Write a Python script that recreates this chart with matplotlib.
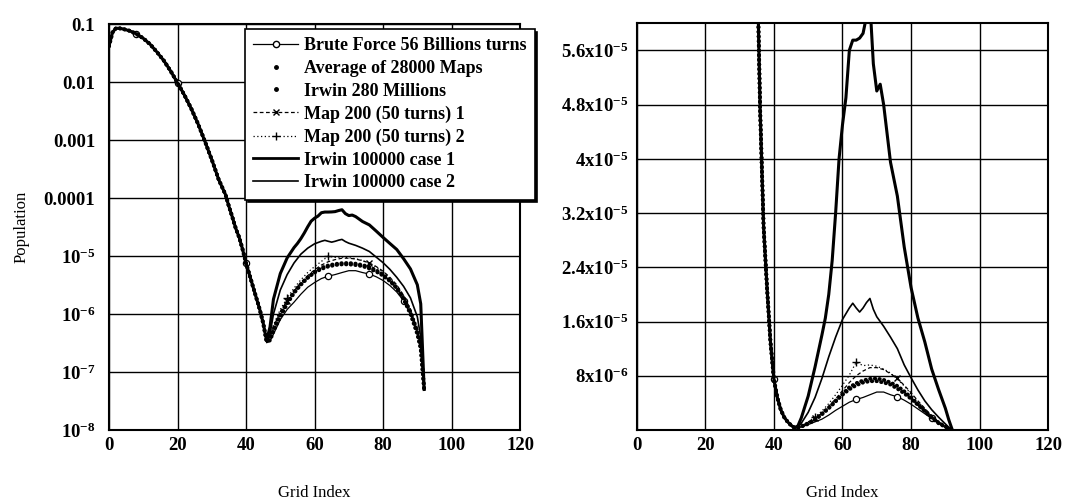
#!/usr/bin/env python3
"""
Population vs grid index, log and linear views
"""

import numpy as np
import matplotlib.pyplot as plt
from matplotlib.lines import Line2D
from matplotlib.ticker import NullLocator

# shared steep decay, all series lie on top of each other here
decay_grid = [0, 1, 2, 3, 4, 6, 8, 10, 12, 14, 16, 18, 20, 22, 24, 26, 28, 30,
              32, 34, 35, 36, 37, 38, 39, 40, 41, 42, 43, 44, 45]
decay_pop = [0.042, 0.072, 0.085, 0.085, 0.083, 0.077, 0.068, 0.057, 0.045,
             0.033, 0.0235, 0.0155, 0.0097, 0.0060, 0.0035, 0.0019, 9.5e-4,
             4.6e-4, 2.1e-4, 1.15e-4, 7.2e-5, 4.7e-5, 3.0e-5, 2.1e-5, 1.3e-5,
             7.5e-6, 4.8e-6, 3.0e-6, 1.9e-6, 1.2e-6, 7e-7]

# second hump, one list per series
hump_grid = [46, 47, 48, 50, 52, 54, 56, 58, 60, 62, 64, 66, 68, 70, 72, 74,
             76, 78, 80, 82, 84, 86, 88, 90, 91, 92]
brute_hump = [3.2e-7, 3.4e-7, 4.5e-7, 8e-7, 1.2e-6, 1.6e-6, 2.2e-6, 2.9e-6,
              3.5e-6, 4.1e-6, 4.5e-6, 4.8e-6, 5.2e-6, 5.6e-6, 5.6e-6, 5.2e-6,
              4.9e-6, 4.4e-6, 3.8e-6, 3.1e-6, 2.4e-6, 1.7e-6, 1.0e-6, 5e-7,
              2.8e-7, 5e-8]
average_hump = [3.4e-7, 3.5e-7, 5e-7, 9e-7, 1.5e-6, 2.3e-6, 3.2e-6, 4.2e-6,
                5.3e-6, 6.3e-6, 6.9e-6, 7.3e-6, 7.55e-6, 7.6e-6, 7.4e-6, 7.0e-6,
                6.5e-6, 5.7e-6, 4.8e-6, 3.8e-6, 2.8e-6, 1.8e-6, 1.0e-6, 4.5e-7,
                2.5e-7, 5e-8]
irwin280_hump = [3.3e-7, 3.8e-7, 5.5e-7, 1.0e-6, 1.6e-6, 2.4e-6, 3.3e-6, 4.3e-6,
                 5.2e-6, 6.0e-6, 6.6e-6, 7.0e-6, 7.2e-6, 7.2e-6, 7.0e-6, 6.7e-6,
                 6.1e-6, 5.4e-6, 4.6e-6, 3.7e-6, 2.8e-6, 1.9e-6, 1.1e-6, 5e-7,
                 2.7e-7, 5e-8]
map1_hump = [3.4e-7, 4e-7, 6e-7, 1.1e-6, 1.7e-6, 2.5e-6, 3.5e-6, 4.6e-6, 5.8e-6,
             7.0e-6, 8.0e-6, 8.7e-6, 9.2e-6, 9.2e-6, 8.9e-6, 8.3e-6, 7.6e-6,
             6.6e-6, 5.5e-6, 4.3e-6, 3.2e-6, 2.1e-6, 1.2e-6, 5.5e-7, 3e-7, 5e-8]
map2_hump = [3.3e-7, 4e-7, 6.5e-7, 1.2e-6, 1.9e-6, 2.8e-6, 3.9e-6, 5.2e-6,
             6.6e-6, 8.1e-6, 1.0e-5, 9.5e-6, 9.6e-6, 9.4e-6, 9.0e-6, 8.4e-6,
             7.5e-6, 6.5e-6, 5.3e-6, 4.2e-6, 3.1e-6, 2.1e-6, 1.2e-6, 6e-7, 3e-7,
             5e-8]

case1_grid = [46, 47, 48, 50, 52, 54, 55, 56, 57, 58, 59, 60, 61, 62, 63, 64,
              65, 66, 67, 68, 69, 70, 71, 72, 74, 76, 78, 80, 82, 84, 86, 88,
              90, 91, 92]
case1_hump = [3.5e-7, 6e-7, 1.8e-6, 5e-6, 9.3e-6, 1.4e-5, 1.65e-5, 2.0e-5,
              2.5e-5, 3.2e-5, 4.0e-5, 4.5e-5, 4.9e-5, 5.6e-5, 5.75e-5, 5.75e-5,
              5.78e-5, 5.85e-5, 6.1e-5, 6.3e-5, 5.4e-5, 5.0e-5, 5.1e-5, 4.8e-5,
              3.95e-5, 3.45e-5, 2.7e-5, 2.1e-5, 1.65e-5, 1.3e-5, 9e-6, 6e-6,
              3.2e-6, 1.5e-6, 5e-8]

case2_grid = [46, 47, 48, 50, 52, 54, 56, 58, 60, 62, 63, 64, 65, 66, 67, 68,
              69, 70, 72, 74, 76, 78, 80, 82, 84, 86, 88, 90, 91, 92]
case2_hump = [3.4e-7, 4.5e-7, 1.0e-6, 2.6e-6, 4.8e-6, 7.6e-6, 1.08e-5, 1.37e-5,
              1.63e-5, 1.8e-5, 1.87e-5, 1.8e-5, 1.74e-5, 1.8e-5, 1.88e-5,
              1.94e-5, 1.78e-5, 1.67e-5, 1.53e-5, 1.37e-5, 1.2e-5, 9.6e-6,
              7.7e-6, 5.9e-6, 4.3e-6, 3.0e-6, 1.9e-6, 9e-7, 4e-7, 5e-8]

labels = ['Brute Force 56 Billions turns', 'Average of 28000 Maps',
          'Irwin 280 Millions', 'Map 200 (50 turns) 1', 'Map 200 (50 turns) 2',
          'Irwin 100000 case 1', 'Irwin 100000 case 2']

x_ticks = [0, 20, 40, 60, 80, 100, 120]
log_ticks = [1e-1, 1e-2, 1e-3, 1e-4, 1e-5, 1e-6, 1e-7, 1e-8]
log_labels = ['0.1', '0.01', '0.001', '0.0001', r'$\mathbf{10^{-5}}$',
              r'$\mathbf{10^{-6}}$', r'$\mathbf{10^{-7}}$', r'$\mathbf{10^{-8}}$']
lin_ticks = [8e-6, 1.6e-5, 2.4e-5, 3.2e-5, 4e-5, 4.8e-5, 5.6e-5]
lin_labels = [r'$\mathbf{8x10^{-6}}$', r'$\mathbf{1.6x10^{-5}}$',
              r'$\mathbf{2.4x10^{-5}}$', r'$\mathbf{3.2x10^{-5}}$',
              r'$\mathbf{4x10^{-5}}$', r'$\mathbf{4.8x10^{-5}}$',
              r'$\mathbf{5.6x10^{-5}}$']

SERIF = 'Liberation Serif'


def full(grid, hump):
    return np.r_[decay_grid, grid], np.r_[decay_pop, hump]


def mark_idx(grid, positions):
    grid = list(grid)
    return [grid.index(p) for p in positions]


def draw_series(ax):
    x, y = full(hump_grid, brute_hump)
    ax.plot(x, y, color='k', lw=0.9, marker='o', ms=4.5, mfc='white', mew=0.9,
            markevery=mark_idx(x, [8, 20, 40, 64, 76, 86]))
    # dot-only series: dense round dots
    for hump in (average_hump, irwin280_hump):
        x, y = full(hump_grid, hump)
        ax.plot(x, y, color='k', lw=2.8, ls=(0, (0.1, 1.1)),
                dash_capstyle='round')
    x, y = full(hump_grid, map1_hump)
    ax.plot(x, y, color='k', lw=0.9, ls=(0, (3, 2)), marker='x', ms=4.5,
            markevery=mark_idx(x, [52, 76]))
    x, y = full(hump_grid, map2_hump)
    ax.plot(x, y, color='k', lw=0.9, ls=(0, (1, 2)), marker='+', ms=6,
            markevery=mark_idx(x, [52, 64]))
    x, y = full(case1_grid, case1_hump)
    ax.plot(x, y, color='k', lw=2.2)
    x, y = full(case2_grid, case2_hump)
    ax.plot(x, y, color='k', lw=1.2)


def style_axes(ax):
    ax.set_xlim(0, 120)
    ax.set_xticks(x_ticks)
    ax.set_xticklabels([str(t) for t in x_ticks])
    ax.grid(True, color='k', lw=1.0)
    ax.set_axisbelow(True)
    for s in ax.spines.values():
        s.set_linewidth(1.5)
    ax.tick_params(length=0, labelsize=13.5)
    ax.tick_params(axis='x', pad=5)
    for lbl in ax.get_xticklabels() + ax.get_yticklabels():
        lbl.set_fontweight('bold')
    ax.set_xlabel('Grid Index', fontsize=12, labelpad=22)


def main():
    plt.rcParams['font.family'] = [SERIF, 'DejaVu Serif']
    plt.rcParams['mathtext.fontset'] = 'custom'
    plt.rcParams['mathtext.rm'] = SERIF
    plt.rcParams['mathtext.bf'] = SERIF + ':bold'
    plt.rcParams['mathtext.it'] = SERIF + ':italic'

    fig = plt.figure(figsize=(10.69, 5.01), dpi=100)
    ax1 = fig.add_axes([0.102, 0.1417, 0.3845, 0.810])
    ax2 = fig.add_axes([0.5956, 0.1417, 0.3850, 0.812])

    # log view
    draw_series(ax1)
    ax1.set_yscale('log')
    ax1.set_ylim(1e-8, 0.1)
    ax1.set_yticks(log_ticks)
    ax1.set_yticklabels(log_labels)
    ax1.yaxis.set_minor_locator(NullLocator())
    style_axes(ax1)
    ax1.tick_params(axis='y', pad=10)
    ax1.set_ylabel('Population', fontsize=12, labelpad=10)

    handles = [
        Line2D([], [], color='k', lw=0.9, marker='o', ms=4.5, mfc='white'),
        Line2D([], [], ls='none', marker='.', ms=5, color='k'),
        Line2D([], [], ls='none', marker='.', ms=5, color='k'),
        Line2D([], [], color='k', lw=0.9, ls=(0, (3, 2)), marker='x', ms=4.5),
        Line2D([], [], color='k', lw=0.9, ls=(0, (1, 2)), marker='+', ms=6),
        Line2D([], [], color='k', lw=2.0),
        Line2D([], [], color='k', lw=1.2),
    ]
    leg = ax1.legend(handles, labels, loc='upper left',
                     bbox_to_anchor=(0.331, 0.988), frameon=True,
                     fancybox=False, framealpha=1, edgecolor='black',
                     shadow={'color': 'black', 'alpha': 1},
                     prop={'family': SERIF, 'weight': 'bold', 'size': 13},
                     handlelength=2.5, handletextpad=0.3, labelspacing=0.32,
                     borderpad=0.45, borderaxespad=0, numpoints=1)
    leg.get_frame().set_linewidth(1.2)

    # linear view
    draw_series(ax2)
    ax2.set_ylim(0, 6e-5)
    ax2.set_yticks(lin_ticks)
    ax2.set_yticklabels(lin_labels)
    style_axes(ax2)
    ax2.tick_params(axis='y', pad=6)

    fig.savefig('out.png', dpi=100)


if __name__ == '__main__':
    main()
